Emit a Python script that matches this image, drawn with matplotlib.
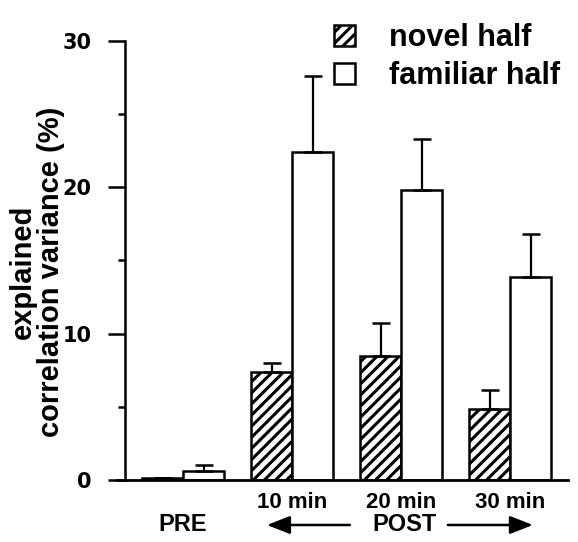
import matplotlib

matplotlib.use("Agg")
import matplotlib.pyplot as plt
import numpy as np
from matplotlib.transforms import blended_transform_factory

plt.rcParams["font.family"] = ["Liberation Sans", "DejaVu Sans"]
plt.rcParams["hatch.linewidth"] = 2.2

# values (explained correlation variance, %)
groups = ["PRE", "10 min", "20 min", "30 min"]
novel = [0.15, 7.4, 8.5, 4.85]
novel_err = [0.0, 0.62, 2.25, 1.3]
familiar = [0.62, 22.4, 19.8, 13.9]
familiar_err = [0.4, 5.2, 3.5, 2.9]

x = np.arange(len(groups))
w = 0.376

fig = plt.figure(figsize=(5.78, 5.42), dpi=100)
ax = fig.add_axes([0.2024, 0.1144, 0.7803, 0.81])

ekw = dict(elinewidth=1.6, capthick=1.8, ecolor="black")
b_nov = ax.bar(x - w / 2, novel, w, color="white", edgecolor="black", hatch="///",
               linewidth=1.8, yerr=[np.zeros(len(x)), novel_err], capsize=6.5,
               error_kw=ekw, label="novel half")
b_fam = ax.bar(x + w / 2, familiar, w, color="white", edgecolor="black",
               linewidth=1.8, yerr=[np.zeros(len(x)), familiar_err], capsize=6.5,
               error_kw=ekw, label="familiar half")

ax.set_xlim(-0.606, 3.532)
ax.set_ylim(0, 30)

for s in ["top", "right"]:
    ax.spines[s].set_visible(False)
ax.spines["left"].set_position(("data", -0.532))
ax.spines["left"].set_linewidth(1.8)
ax.spines["bottom"].set_linewidth(2.0)

ax.set_yticks([0, 10, 20, 30])
ax.set_yticks([5, 15, 25], minor=True)
ax.set_yticklabels(["0", "10", "20", "30"], family=["Liberation Sans Narrow", "DejaVu Sans"],
                   fontweight="bold", fontsize=15)
ax.tick_params(axis="y", which="major", length=12, width=1.8, pad=12)
ax.tick_params(axis="y", which="minor", length=5, width=1.8)

ax.set_xticks(x[1:])
ax.set_xticklabels(groups[1:], fontweight="bold", fontsize=16)
ax.tick_params(axis="x", length=0, pad=9)

ax.set_ylabel("explained\ncorrelation variance (%)", fontsize=21, fontweight="bold",
              linespacing=1.0)
ax.yaxis.set_label_coords(-0.115, 0.474)

# PRE / POST labels with arrows under the axis
tr = blended_transform_factory(ax.transData, ax.transAxes)
yl = -0.1025
ax.text(0, yl, "PRE", transform=tr, ha="center", va="center", fontsize=17,
        fontweight="bold", clip_on=False)
ax.text(2.03, yl, "POST", transform=tr, ha="center", va="center", fontsize=17,
        fontweight="bold", clip_on=False)
akw = dict(arrowstyle="-|>,head_length=1.4,head_width=0.55", lw=1.8, color="black",
           shrinkA=0, shrinkB=0)
ax.annotate("", xy=(0.77, yl), xytext=(1.53, yl), xycoords=tr, textcoords=tr,
            arrowprops=akw, annotation_clip=False)
ax.annotate("", xy=(3.21, yl), xytext=(2.43, yl), xycoords=tr, textcoords=tr,
            arrowprops=akw, annotation_clip=False)

leg = fig.legend(handles=[b_nov, b_fam], loc="upper right", bbox_to_anchor=(0.995, 0.985),
                 frameon=False, prop=dict(size=22, weight="bold"), handlelength=0.7,
                 handleheight=0.7, handletextpad=1.1, labelspacing=0.25, borderpad=0)

fig.savefig("out.png", dpi=100)
